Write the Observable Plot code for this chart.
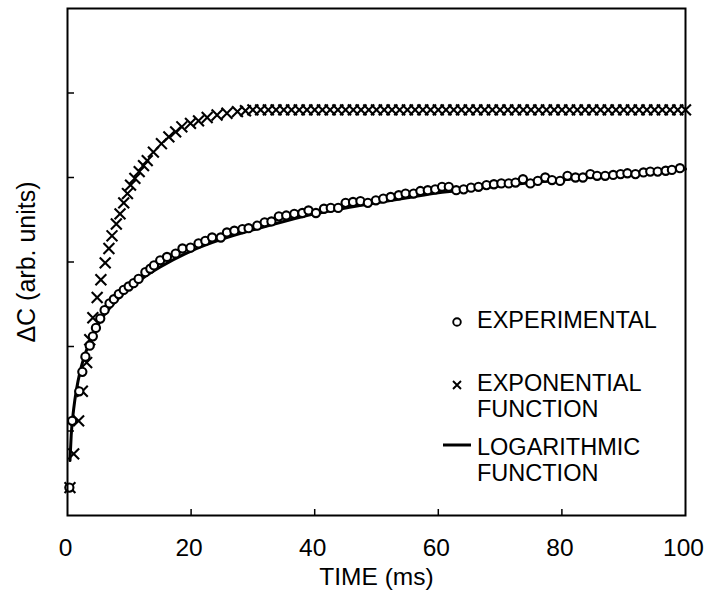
<!DOCTYPE html>
<html>
<head>
<meta charset="utf-8">
<script src="https://cdn.jsdelivr.net/npm/d3@7"></script>
<script src="https://cdn.jsdelivr.net/npm/@observablehq/plot@0.6"></script>
<style>
  html, body { margin: 0; padding: 0; background: #fff; }
  #wrap { position: relative; width: 705px; height: 593px; font-family: "Liberation Sans", Arial, Helvetica, sans-serif; }
  #legend { position: absolute; left: 0; top: 0; pointer-events: none; }
</style>
</head>
<body>
<div id="wrap"></div>
<script>
// ---- Data ----
const xTicks = [0, 20, 40, 60, 80, 100];
const xInnerTicks = [20, 40, 60, 80];
const yTicks = [1, 2, 3, 4, 5];

// Experimental (circles)
const expTime = [0.3, 0.75, 1.9, 2.4, 2.9, 3.6, 4.1, 4.6, 5.3, 6.0, 6.8, 7.5, 8.3, 9.1, 9.9, 10.7, 11.5, 12.6, 13.4,
  14.0, 15.0, 16.1, 17.5, 18.6, 19.9, 21.2, 22.3, 23.4, 24.8, 25.8, 27.0, 28.3, 29.3, 30.7, 31.9, 33.0, 34.2, 35.4,
  36.7, 38.0, 39.0, 40.2, 41.5, 42.6, 43.8, 45.0, 46.2, 47.4, 48.6, 49.9, 51.1, 52.3, 53.6, 54.7, 56.0, 57.1, 58.3,
  59.5, 60.6, 61.7, 62.9, 64.1, 65.3, 66.5, 67.8, 69.0, 70.2, 71.4, 72.5, 73.7, 74.9, 76.1, 77.3, 78.4, 79.7, 80.9,
  82.2, 83.4, 84.6, 85.7, 87.0, 88.3, 89.5, 90.6, 91.9, 93.2, 94.3, 95.5, 96.8, 97.8, 99.1];
const expValue = [0.33, 1.12, 1.47, 1.70, 1.88, 2.01, 2.12, 2.22, 2.33, 2.43, 2.51, 2.56, 2.62, 2.67, 2.71, 2.75, 2.80, 2.88, 2.92,
  2.96, 3.02, 3.06, 3.10, 3.16, 3.17, 3.22, 3.25, 3.29, 3.29, 3.35, 3.37, 3.39, 3.40, 3.43, 3.47, 3.48, 3.54, 3.55,
  3.57, 3.58, 3.61, 3.58, 3.63, 3.64, 3.64, 3.70, 3.71, 3.72, 3.70, 3.73, 3.75, 3.77, 3.79, 3.81, 3.81, 3.84, 3.85,
  3.86, 3.89, 3.89, 3.85, 3.86, 3.88, 3.89, 3.91, 3.92, 3.93, 3.93, 3.94, 3.98, 3.93, 3.96, 4.00, 3.97, 3.96, 4.02,
  4.00, 4.00, 4.04, 4.02, 4.02, 4.03, 4.04, 4.05, 4.04, 4.06, 4.07, 4.07, 4.08, 4.09, 4.11];

// Exponential function (crosses)
const expoTime = [0.4, 1.0, 1.8, 2.4, 3.1, 3.6, 4.1, 4.8, 5.4, 6.1, 6.7, 7.2, 7.9, 8.5, 9.1, 9.7, 10.2, 10.9, 11.6, 12.3,
  12.9, 13.9, 15.2, 16.4, 17.5, 18.5, 19.9, 21.2, 22.6, 24.2, 25.8, 27.5, 28.8,
  30.0, 31.25, 32.5, 33.75, 35.0, 36.25, 37.5, 38.75, 40.0, 41.25, 42.5, 43.75, 45.0, 46.25, 47.5, 48.75,
  50.0, 51.25, 52.5, 53.75, 55.0, 56.25, 57.5, 58.75, 60.0, 61.25, 62.5, 63.75, 65.0, 66.25, 67.5, 68.75,
  70.0, 71.25, 72.5, 73.75, 75.0, 76.25, 77.5, 78.75, 80.0, 81.25, 82.5, 83.75, 85.0, 86.25, 87.5, 88.75,
  90.0, 91.25, 92.5, 93.75, 95.0, 96.25, 97.5, 98.75, 100.0];
const expoValue = [0.33, 0.73, 1.12, 1.47, 1.81, 2.08, 2.34, 2.58, 2.79, 2.99, 3.16, 3.31, 3.45, 3.57, 3.70, 3.81, 3.91, 3.99, 4.07, 4.14,
  4.20, 4.30, 4.40, 4.48, 4.54, 4.60, 4.64, 4.67, 4.71, 4.74, 4.76, 4.78, 4.79,
  4.80, 4.80, 4.80, 4.80, 4.80, 4.80, 4.80, 4.80, 4.80, 4.80, 4.80, 4.80, 4.80, 4.80, 4.80, 4.80,
  4.80, 4.80, 4.80, 4.80, 4.80, 4.80, 4.80, 4.80, 4.80, 4.80, 4.80, 4.80, 4.80, 4.80, 4.80, 4.80,
  4.80, 4.80, 4.80, 4.80, 4.80, 4.80, 4.80, 4.80, 4.80, 4.80, 4.80, 4.80, 4.80, 4.80, 4.80, 4.80,
  4.80, 4.80, 4.80, 4.80, 4.80, 4.80, 4.80, 4.80, 4.80];

// Logarithmic function (solid line)
const logTime = [0.4, 0.6, 1.0, 1.5, 2.0, 3.0, 4.0, 5.0, 6.0, 7.0, 8.0, 10, 12, 15, 20, 25, 30, 35, 40, 45, 50, 55, 60, 65, 70, 75, 80, 85, 90, 95, 100];
const logValue = [0.65, 0.95, 1.26, 1.51, 1.69, 1.94, 2.12, 2.26, 2.38, 2.47, 2.55, 2.69, 2.80, 2.94, 3.13, 3.27, 3.38, 3.48, 3.57, 3.64, 3.70, 3.76, 3.82, 3.86, 3.90, 3.94, 3.97, 4.01, 4.04, 4.07, 4.10];

const legendLabels = [["EXPERIMENTAL"], ["EXPONENTIAL", "FUNCTION"], ["LOGARITHMIC", "FUNCTION"]];

// ---- Tables ----
const experimental = expTime.map((t, i) => ({t, v: expValue[i]}));
const exponential = expoTime.map((t, i) => ({t, v: expoValue[i]}));
const logarithmic = logTime.map((t, i) => ({t, v: logValue[i]}));

const font = "'Liberation Sans', Arial, Helvetica, sans-serif";

const chart = Plot.plot({
  width: 705,
  height: 593,
  marginLeft: 67,
  marginRight: 20,
  marginTop: 8,
  marginBottom: 78,
  style: {fontFamily: font, fontSize: "25px", color: "#000", background: "#fff"},
  x: {domain: [0, 100]},
  y: {domain: [0, 6]},
  marks: [
    Plot.line(logarithmic, {x: "t", y: "v", stroke: "#000", strokeWidth: 3, curve: "monotone-x"}),
    Plot.dot(exponential, {x: "t", y: "v", symbol: "times", r: 5, stroke: "#000", strokeWidth: 2.1}),
    Plot.dot(experimental, {x: "t", y: "v", symbol: "circle", r: 4.1, stroke: "#000", fill: "#fff", strokeWidth: 2.1}),
    Plot.frame({stroke: "#000", strokeWidth: 2}),
    Plot.axisY({ticks: yTicks, tickSize: 7, dx: 7, tickFormat: () => "", label: null, strokeWidth: 1.5}),
    Plot.axisY({ticks: [], tickSize: 0, label: "ΔC (arb. units)", labelAnchor: "center", labelOffset: 50, labelArrow: false, fontSize: 25}),
    Plot.axisX({ticks: xInnerTicks, tickSize: 6, dy: -6, tickFormat: () => "", label: null, strokeWidth: 1.5}),
    Plot.axisX({ticks: xTicks, tickSize: 0, tickPadding: 23, fontSize: 24.5, dx: -2, tickFormat: d => String(d),
      label: "TIME (ms)", labelAnchor: "center", labelOffset: 69, labelArrow: false})
  ]
});

const wrap = document.getElementById("wrap");
wrap.appendChild(chart);

// ---- Legend overlay (inside plot area) ----
const ns = "http://www.w3.org/2000/svg";
const lg = document.createElementNS(ns, "svg");
lg.setAttribute("id", "legend");
lg.setAttribute("width", 705);
lg.setAttribute("height", 593);
lg.style.fontFamily = font;
function el(tag, attrs, parent) {
  const e = document.createElementNS(ns, tag);
  for (const k in attrs) e.setAttribute(k, attrs[k]);
  (parent || lg).appendChild(e);
  return e;
}
el("circle", {cx: 457, cy: 322, r: 3.8, fill: "#fff", stroke: "#000", "stroke-width": 1.9});
el("path", {d: "M453,381L461,389M461,381L453,389", stroke: "#000", "stroke-width": 1.9});
el("line", {x1: 443, x2: 471, y1: 445, y2: 445, stroke: "#000", "stroke-width": 3});
const baselines = [[328], [391, 417], [455, 481]];
legendLabels.forEach((lines, i) => {
  lines.forEach((s, j) => {
    const t = el("text", {x: 477, y: baselines[i][j], "font-size": 23.5, fill: "#000"});
    t.textContent = s;
  });
});
wrap.appendChild(lg);
</script>
</body>
</html>
